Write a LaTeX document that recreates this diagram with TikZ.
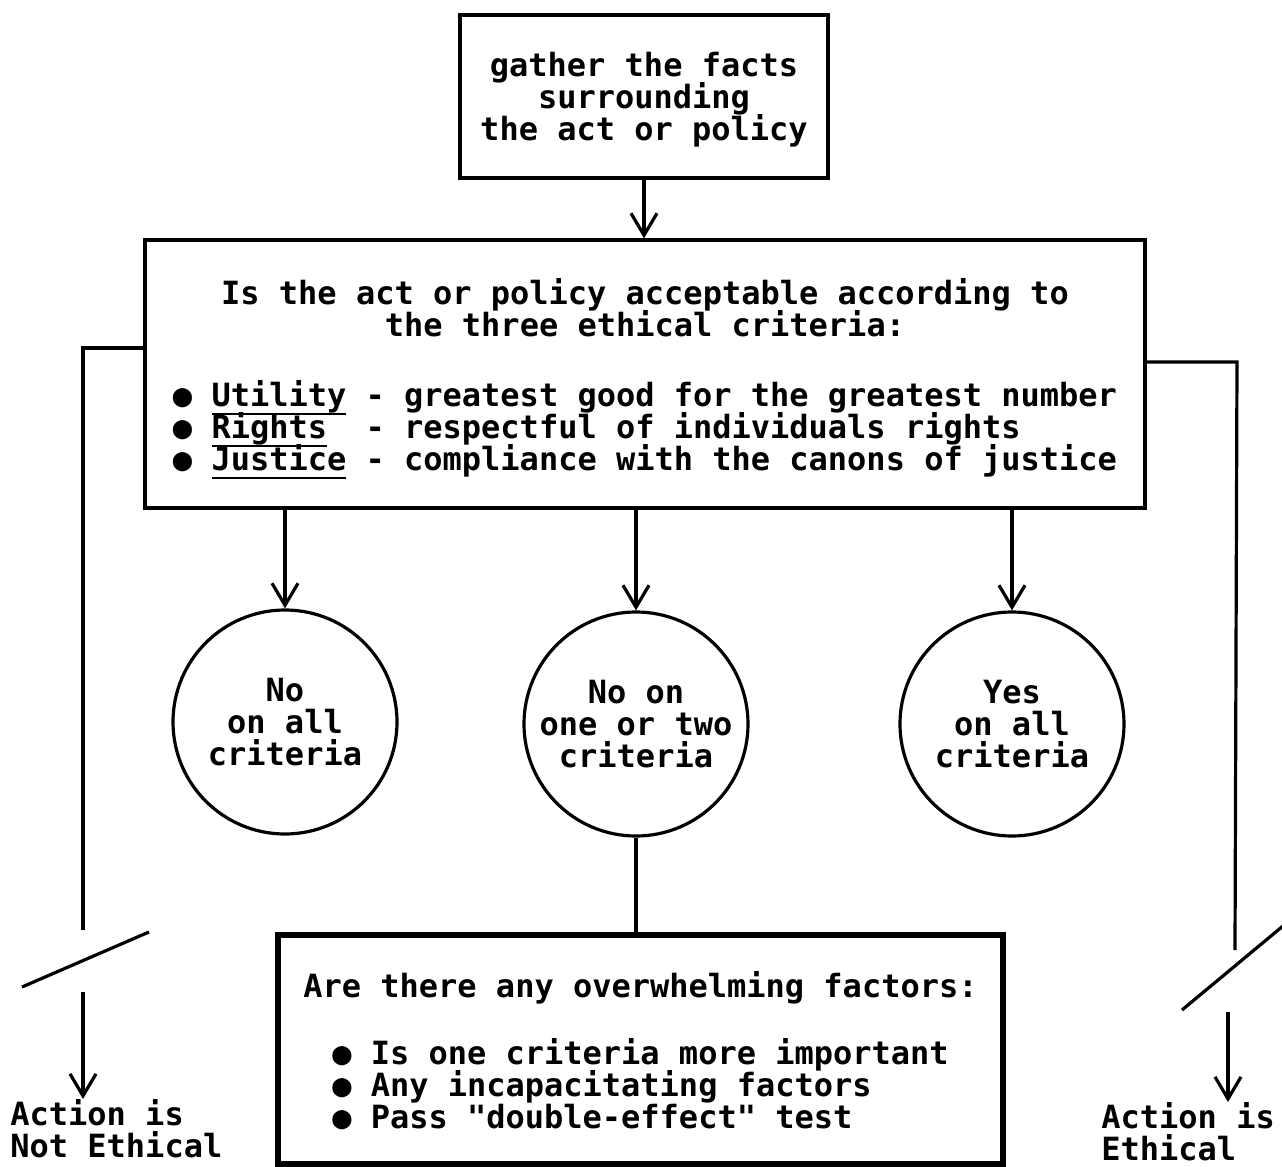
\documentclass[tikz,border=0pt]{standalone}
\usepackage{fontspec}
\setmonofont{DejaVu Sans Mono}
\usetikzlibrary{arrows.meta,positioning,calc}
\newcommand{\chartfont}{\ttfamily\bfseries\fontsize{16}{16}\selectfont\lineskiplimit=-20pt\relax}
\newcommand{\critname}[1]{%
  \setbox0=\hbox{#1}\rlap{\smash{\vrule height -3pt depth 4.1pt width \wd0}}\box0\relax}
\newcommand{\pointlist}[1]{\vtop{\baselineskip=16pt\lineskiplimit=-20pt\halign{##\hfil\cr#1\crcr}}}

\begin{document}
\begin{tikzpicture}[x=0.5pt,y=-0.5pt,
  every node/.style={font=\chartfont,inner sep=0pt},
  box/.style={draw,line width=1.6pt,align=center},
  verdict/.style={draw,circle,line width=1.6pt,minimum size=112pt,align=center},
  outcome/.style={align=left,anchor=north west},
  wire/.style={line width=1.6pt},
  flow/.style={line width=1.6pt,-{Straight Barb[length=11pt,width=13pt,line width=1.6pt]}}]
  \useasboundingbox (0,0) rectangle (1282,1167);
  \node[box,minimum width=184pt,minimum height=81.5pt] (facts) at (644,96.5)
    {\rule{0pt}{15pt}gather the facts\\surrounding\\the act or policy};
  \node[box,minimum width=500pt,minimum height=134pt] (criteria) at (645,374)
    {\rule{0pt}{17pt}Is the act or policy acceptable according to\\the three ethical criteria:\\[19pt]
     \pointlist{%
       ● \critname{Utility} - greatest good for the greatest number\cr
       ● \critname{Rights}\ \ - respectful of individuals rights\cr
       ● \critname{Justice} - compliance with the canons of justice}};
  \node[verdict] (nope) at (285,722) {No\\on all\\criteria};
  \node[verdict] (mixed) at (636,724) {No on\\one or two\\criteria};
  \node[verdict] (yes) at (1012,724) {Yes\\on all\\criteria};
  \node[box,line width=2.6pt,minimum width=362.5pt,minimum height=114.5pt] (factors) at (640.5,1049.5)
    {\rule{0pt}{14pt}Are there any overwhelming factors:\\[17.5pt]
     \pointlist{%
       ● Is one criteria more important\cr
       ● Any incapacitating factors\cr
       ● Pass "double-effect" test}};
  \node[outcome] (noteth) at (10,1099) {Action is\\Not Ethical};
  \node[outcome] (eth) at (1101,1102) {Action is\\Ethical};

  \draw[flow] (facts.south) -- (criteria.north -| facts.south);
  \draw[flow] (criteria.south -| nope) -- (nope);
  \draw[flow] (criteria.south -| mixed) -- (mixed);
  \draw[flow] (criteria.south -| yes) -- (yes);
  \draw[wire] (mixed) -- (factors.north -| mixed);

  \coordinate (lbend) at (83,348);
  \coordinate (lcut) at (83,930);
  \coordinate (lgap) at (83,992);
  \draw[wire] (criteria.west |- lbend) -- (lbend) -- (lcut);
  \draw[wire] (22,987) -- (149,932);
  \draw[flow] (lgap) -- (lgap |- noteth.north);

  \coordinate (rbend) at (1237,362);
  \coordinate (rcut) at (1235,950);
  \coordinate (rgap) at (1228,1012);
  \draw[wire] (criteria.east |- rbend) -- (rbend) -- (rcut);
  \draw[wire] (1182,1010) -- (1295,916);
  \draw[flow] (rgap) -- (rgap |- eth.north);
\end{tikzpicture}
\end{document}
